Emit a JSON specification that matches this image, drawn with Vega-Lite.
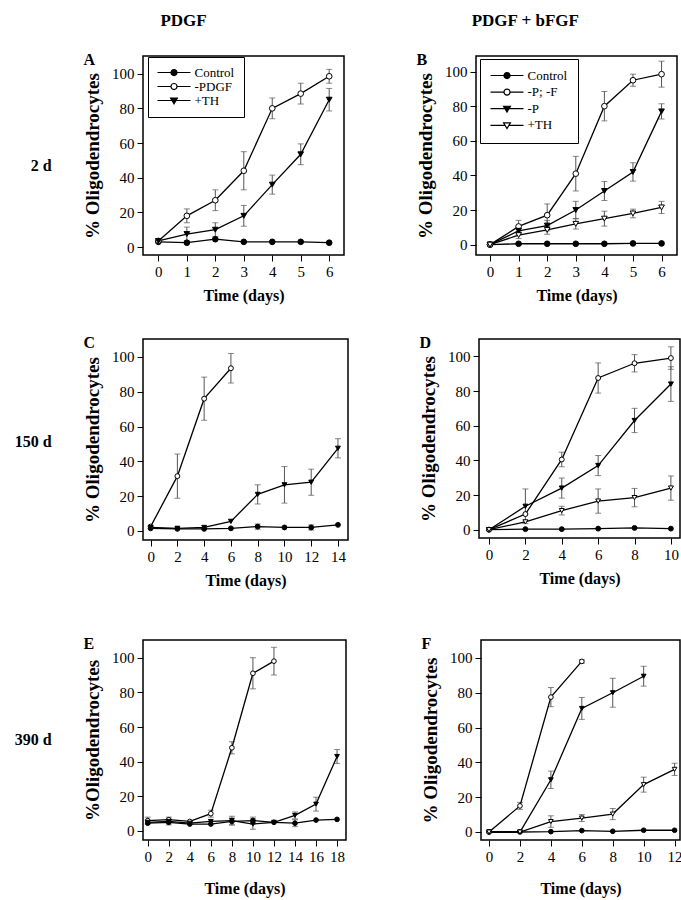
{
  "$schema": "https://vega.github.io/schema/vega-lite/v6.json",
  "background": "white",
  "padding": {"left": 14, "top": 12, "right": 4, "bottom": 4},
  "config": {
    "view": {"stroke": "black", "strokeWidth": 1.5},
    "axis": {"grid": false, "domain": false, "tickColor": "black", "tickWidth": 1, "tickSize": 6, "labelFont": "Liberation Serif", "labelFontSize": 15, "labelColor": "black", "labelPadding": 3, "titleFont": "Liberation Serif", "titleFontWeight": "bold", "titleColor": "black", "labelFlush": false, "labelOverlap": false},
    "axisX": {"titleFontSize": 16, "titlePadding": 8},
    "axisY": {"titleFontSize": 19, "titlePadding": 9}
  },
  "resolve": {"scale": {"shape": "independent", "fill": "independent"}},
  "datasets": {
    "A": [
      {"series": "Control", "day": 0, "pct": 3, "err": 0},
      {"series": "Control", "day": 1, "pct": 2.5, "err": 0},
      {"series": "Control", "day": 2, "pct": 4.5, "err": 0},
      {"series": "Control", "day": 3, "pct": 3, "err": 0},
      {"series": "Control", "day": 4, "pct": 3, "err": 0},
      {"series": "Control", "day": 5, "pct": 3, "err": 0},
      {"series": "Control", "day": 6, "pct": 2.5, "err": 0},
      {"series": "-PDGF", "day": 0, "pct": 3.5, "err": 0},
      {"series": "-PDGF", "day": 1, "pct": 18, "err": 4},
      {"series": "-PDGF", "day": 2, "pct": 27, "err": 6},
      {"series": "-PDGF", "day": 3, "pct": 44, "err": 11},
      {"series": "-PDGF", "day": 4, "pct": 80, "err": 6},
      {"series": "-PDGF", "day": 5, "pct": 88.5, "err": 6},
      {"series": "-PDGF", "day": 6, "pct": 98.5, "err": 4},
      {"series": "+TH", "day": 0, "pct": 3.5, "err": 0},
      {"series": "+TH", "day": 1, "pct": 7.5, "err": 4},
      {"series": "+TH", "day": 2, "pct": 10, "err": 4},
      {"series": "+TH", "day": 3, "pct": 18, "err": 6},
      {"series": "+TH", "day": 4, "pct": 36, "err": 5.5},
      {"series": "+TH", "day": 5, "pct": 53.5, "err": 6},
      {"series": "+TH", "day": 6, "pct": 85, "err": 6.5}
    ],
    "B": [
      {"series": "Control", "day": 0, "pct": 0, "err": 0},
      {"series": "Control", "day": 1, "pct": 0.5, "err": 0},
      {"series": "Control", "day": 2, "pct": 0.5, "err": 0},
      {"series": "Control", "day": 3, "pct": 0.5, "err": 0},
      {"series": "Control", "day": 4, "pct": 0.5, "err": 0},
      {"series": "Control", "day": 5, "pct": 0.7, "err": 0},
      {"series": "Control", "day": 6, "pct": 0.7, "err": 0},
      {"series": "-P; -F", "day": 0, "pct": 0, "err": 0},
      {"series": "-P; -F", "day": 1, "pct": 10.5, "err": 3.5},
      {"series": "-P; -F", "day": 2, "pct": 17, "err": 6.5},
      {"series": "-P; -F", "day": 3, "pct": 41, "err": 10},
      {"series": "-P; -F", "day": 4, "pct": 80, "err": 8.5},
      {"series": "-P; -F", "day": 5, "pct": 95, "err": 3.5},
      {"series": "-P; -F", "day": 6, "pct": 98.5, "err": 7.5},
      {"series": "-P", "day": 0, "pct": 0, "err": 0},
      {"series": "-P", "day": 1, "pct": 8, "err": 2},
      {"series": "-P", "day": 2, "pct": 11, "err": 3},
      {"series": "-P", "day": 3, "pct": 20, "err": 5},
      {"series": "-P", "day": 4, "pct": 31, "err": 5.5},
      {"series": "-P", "day": 5, "pct": 42, "err": 5.3},
      {"series": "-P", "day": 6, "pct": 77, "err": 4.4},
      {"series": "+TH", "day": 0, "pct": 0, "err": 0},
      {"series": "+TH", "day": 1, "pct": 5.5, "err": 2},
      {"series": "+TH", "day": 2, "pct": 8.5, "err": 2.5},
      {"series": "+TH", "day": 3, "pct": 12, "err": 3},
      {"series": "+TH", "day": 4, "pct": 15, "err": 4.3},
      {"series": "+TH", "day": 5, "pct": 18, "err": 2.5},
      {"series": "+TH", "day": 6, "pct": 21.5, "err": 3.5}
    ],
    "C": [
      {"series": "Control", "day": 0, "pct": 1.5, "err": 0},
      {"series": "Control", "day": 2, "pct": 1.2, "err": 0},
      {"series": "Control", "day": 4, "pct": 1.2, "err": 0},
      {"series": "Control", "day": 6, "pct": 1.5, "err": 0},
      {"series": "Control", "day": 8, "pct": 2.5, "err": 1.5},
      {"series": "Control", "day": 10, "pct": 2, "err": 0},
      {"series": "Control", "day": 12, "pct": 2, "err": 1.5},
      {"series": "Control", "day": 14, "pct": 3.5, "err": 0},
      {"series": "-PDGF", "day": 0, "pct": 2.5, "err": 0},
      {"series": "-PDGF", "day": 2, "pct": 31.5, "err": 12.7},
      {"series": "-PDGF", "day": 4, "pct": 76, "err": 12.4},
      {"series": "-PDGF", "day": 6, "pct": 93.5, "err": 8.5},
      {"series": "+TH", "day": 0, "pct": 2, "err": 0},
      {"series": "+TH", "day": 2, "pct": 1.5, "err": 0},
      {"series": "+TH", "day": 4, "pct": 2, "err": 0},
      {"series": "+TH", "day": 6, "pct": 5.5, "err": 0},
      {"series": "+TH", "day": 8, "pct": 21, "err": 5.5},
      {"series": "+TH", "day": 10, "pct": 26.5, "err": 10.5},
      {"series": "+TH", "day": 12, "pct": 28, "err": 7.5},
      {"series": "+TH", "day": 14, "pct": 47.5, "err": 5.5}
    ],
    "D": [
      {"series": "Control", "day": 0, "pct": 0, "err": 0},
      {"series": "Control", "day": 2, "pct": 0.3, "err": 0},
      {"series": "Control", "day": 4, "pct": 0.3, "err": 0},
      {"series": "Control", "day": 6, "pct": 0.6, "err": 0},
      {"series": "Control", "day": 8, "pct": 1, "err": 0},
      {"series": "Control", "day": 10, "pct": 0.6, "err": 0},
      {"series": "-P; -F", "day": 0, "pct": 0, "err": 0},
      {"series": "-P; -F", "day": 2, "pct": 9, "err": 0},
      {"series": "-P; -F", "day": 4, "pct": 40.5, "err": 4.2},
      {"series": "-P; -F", "day": 6, "pct": 87.5, "err": 8.7},
      {"series": "-P; -F", "day": 8, "pct": 96, "err": 5},
      {"series": "-P; -F", "day": 10, "pct": 99, "err": 6.5},
      {"series": "-P", "day": 0, "pct": 0, "err": 0},
      {"series": "-P", "day": 2, "pct": 13.5, "err": 10},
      {"series": "-P", "day": 4, "pct": 24, "err": 5.8},
      {"series": "-P", "day": 6, "pct": 37, "err": 5.8},
      {"series": "-P", "day": 8, "pct": 63, "err": 7},
      {"series": "-P", "day": 10, "pct": 84, "err": 10},
      {"series": "+TH", "day": 0, "pct": 0, "err": 0},
      {"series": "+TH", "day": 2, "pct": 4.5, "err": 0},
      {"series": "+TH", "day": 4, "pct": 11, "err": 2.5},
      {"series": "+TH", "day": 6, "pct": 16.5, "err": 7},
      {"series": "+TH", "day": 8, "pct": 18.5, "err": 5.3},
      {"series": "+TH", "day": 10, "pct": 24, "err": 7}
    ],
    "E": [
      {"series": "Control", "day": 0, "pct": 4.5, "err": 0},
      {"series": "Control", "day": 2, "pct": 5, "err": 1.5},
      {"series": "Control", "day": 4, "pct": 4, "err": 0},
      {"series": "Control", "day": 6, "pct": 4, "err": 0},
      {"series": "Control", "day": 8, "pct": 5.5, "err": 2},
      {"series": "Control", "day": 10, "pct": 6, "err": 2},
      {"series": "Control", "day": 12, "pct": 5, "err": 0},
      {"series": "Control", "day": 14, "pct": 4.5, "err": 2},
      {"series": "Control", "day": 16, "pct": 6.3, "err": 0},
      {"series": "Control", "day": 18, "pct": 6.7, "err": 0},
      {"series": "-PDGF", "day": 0, "pct": 6, "err": 2},
      {"series": "-PDGF", "day": 2, "pct": 6.5, "err": 1.5},
      {"series": "-PDGF", "day": 4, "pct": 5.5, "err": 0},
      {"series": "-PDGF", "day": 6, "pct": 10, "err": 2},
      {"series": "-PDGF", "day": 8, "pct": 48, "err": 3.5},
      {"series": "-PDGF", "day": 10, "pct": 91, "err": 9},
      {"series": "-PDGF", "day": 12, "pct": 98, "err": 8},
      {"series": "+TH", "day": 0, "pct": 5, "err": 0},
      {"series": "+TH", "day": 2, "pct": 5.5, "err": 0},
      {"series": "+TH", "day": 4, "pct": 4.5, "err": 0},
      {"series": "+TH", "day": 6, "pct": 5.5, "err": 0},
      {"series": "+TH", "day": 8, "pct": 6, "err": 2.5},
      {"series": "+TH", "day": 10, "pct": 4, "err": 3},
      {"series": "+TH", "day": 12, "pct": 5, "err": 0},
      {"series": "+TH", "day": 14, "pct": 9, "err": 2},
      {"series": "+TH", "day": 16, "pct": 15.5, "err": 4},
      {"series": "+TH", "day": 18, "pct": 43, "err": 4}
    ],
    "F": [
      {"series": "Control", "day": 0, "pct": 0, "err": 0},
      {"series": "Control", "day": 2, "pct": 0, "err": 0},
      {"series": "Control", "day": 4, "pct": 0.2, "err": 0},
      {"series": "Control", "day": 6, "pct": 0.8, "err": 0},
      {"series": "Control", "day": 8, "pct": 0.4, "err": 0},
      {"series": "Control", "day": 10, "pct": 1, "err": 0},
      {"series": "Control", "day": 12, "pct": 1, "err": 0},
      {"series": "-P; -F", "day": 0, "pct": 0, "err": 0},
      {"series": "-P; -F", "day": 2, "pct": 15, "err": 2},
      {"series": "-P; -F", "day": 4, "pct": 77.5, "err": 5.5},
      {"series": "-P; -F", "day": 6, "pct": 98, "err": 1},
      {"series": "-P", "day": 0, "pct": 0, "err": 0},
      {"series": "-P", "day": 2, "pct": 0, "err": 0},
      {"series": "-P", "day": 4, "pct": 30, "err": 5},
      {"series": "-P", "day": 6, "pct": 71, "err": 6.3},
      {"series": "-P", "day": 8, "pct": 80, "err": 8.3},
      {"series": "-P", "day": 10, "pct": 89.5, "err": 5.7},
      {"series": "+TH", "day": 0, "pct": 0, "err": 0},
      {"series": "+TH", "day": 2, "pct": 0, "err": 0},
      {"series": "+TH", "day": 4, "pct": 6, "err": 3.3},
      {"series": "+TH", "day": 6, "pct": 8, "err": 2},
      {"series": "+TH", "day": 8, "pct": 10.3, "err": 3.2},
      {"series": "+TH", "day": 10, "pct": 27.2, "err": 4.3},
      {"series": "+TH", "day": 12, "pct": 36, "err": 3.5}
    ]
  },
  "spacing": 30,
  "vconcat": [
    {
      "title": {"text": "2 d", "orient": "left", "angle": 0, "align": "left", "baseline": "middle", "anchor": "middle", "frame": "bounds", "offset": 31, "dy": 8, "font": "Liberation Serif", "fontSize": 16, "fontWeight": "bold", "color": "black"},
      "spacing": 68,
      "resolve": {"scale": {"shape": "independent", "fill": "independent"}},
      "hconcat": [
        {
          "title": {"text": "PDGF", "anchor": "middle", "frame": "bounds", "offset": 21, "dx": -31, "font": "Liberation Serif", "fontSize": 17, "fontWeight": "bold", "color": "black"},
          "vconcat": [
            {
              "title": {"text": "A", "orient": "top", "anchor": "start", "frame": "bounds", "offset": -12, "font": "Liberation Serif", "fontSize": 16, "fontWeight": "bold", "color": "black"},
              "width": 201, "height": 199,
              "data": {"name": "A"},
              "resolve": {"scale": {"shape": "independent", "fill": "independent"}},
              "encoding": {
                "x": {"field": "day", "type": "quantitative", "scale": {"domain": [-0.54, 6.52], "nice": false, "zero": false}, "axis": {"values": [0, 1, 2, 3, 4, 5, 6], "title": "Time (days)"}},
                "y": {"field": "pct", "type": "quantitative", "scale": {"domain": [-4.6, 110.2], "nice": false, "zero": false}, "axis": {"values": [0, 20, 40, 60, 80, 100], "title": "% Oligodendrocytes"}}
              },
              "layer": [
                {"transform": [{"filter": "datum.err > 0"}], "mark": {"type": "errorbar", "ticks": true, "size": 6, "thickness": 1, "color": "#555"}, "encoding": {"yError": {"field": "err"}}},
                {"mark": {"type": "line", "stroke": "black", "strokeWidth": 1.3}, "encoding": {"detail": {"field": "series"}}},
                {"mark": {"type": "point", "filled": true, "size": 32, "stroke": "black", "strokeWidth": 1, "opacity": 1},
                 "encoding": {
                   "shape": {"field": "series", "type": "nominal", "scale": {"domain": ["Control", "-PDGF", "+TH"], "range": ["circle", "circle", "triangle-down"]}, "legend": null},
                   "fill": {"field": "series", "type": "nominal", "scale": {"domain": ["Control", "-PDGF", "+TH"], "range": ["black", "white", "black"]}, "legend": null}
                 }},
                {"mark": {"type": "point", "filled": true, "size": 121, "stroke": "black", "strokeWidth": 1.2, "opacity": 0},
                 "encoding": {
                   "shape": {"field": "series", "type": "nominal", "scale": {"domain": ["Control", "-PDGF", "+TH"], "range": ["M-3,0H3M0.55,0A0.55,0.55,0,1,1,-0.55,0A0.55,0.55,0,1,1,0.55,0Z", "M-3,0H-0.55M0.55,0H3M0.55,0A0.55,0.55,0,1,1,-0.55,0A0.55,0.55,0,1,1,0.55,0Z", "M-3,0H3M-0.62,-0.45L0.62,-0.45L0,0.6Z"]},
                     "legend": {"title": null, "orient": "none", "legendX": 5, "legendY": 1, "strokeColor": "black", "fillColor": "white", "padding": 9, "labelFont": "Liberation Serif", "labelFontSize": 13, "labelColor": "black", "symbolSize": 121, "symbolStrokeWidth": 1.2, "symbolStrokeColor": "black", "symbolOpacity": 1, "symbolOffset": 10.5, "labelOffset": 14, "rowPadding": 0,
                       "encoding": {"symbols": {"stroke": {"value": "black"}, "strokeWidth": {"value": 1.2}, "strokeOpacity": {"value": 1}}}}},
                   "fill": {"field": "series", "type": "nominal", "scale": {"domain": ["Control", "-PDGF", "+TH"], "range": ["black", "white", "black"]},
                     "legend": {"title": null, "orient": "none", "legendX": 5, "legendY": 1, "strokeColor": "black", "fillColor": "white", "padding": 9, "labelFont": "Liberation Serif", "labelFontSize": 13, "labelColor": "black", "symbolSize": 121, "symbolStrokeWidth": 1.2, "symbolStrokeColor": "black", "symbolOpacity": 1, "symbolOffset": 10.5, "labelOffset": 14, "rowPadding": 0,
                       "encoding": {"symbols": {"stroke": {"value": "black"}, "strokeWidth": {"value": 1.2}, "strokeOpacity": {"value": 1}}}}}
                 }}
              ]
            }
          ]
        },
        {
          "title": {"text": "PDGF + bFGF", "anchor": "middle", "frame": "bounds", "offset": 21, "dx": -22, "font": "Liberation Serif", "fontSize": 17, "fontWeight": "bold", "color": "black"},
          "vconcat": [
            {
              "title": {"text": "B", "orient": "top", "anchor": "start", "frame": "bounds", "offset": -12, "font": "Liberation Serif", "fontSize": 16, "fontWeight": "bold", "color": "black"},
              "width": 201, "height": 199,
              "data": {"name": "B"},
              "resolve": {"scale": {"shape": "independent", "fill": "independent"}},
              "encoding": {
                "x": {"field": "day", "type": "quantitative", "scale": {"domain": [-0.49, 6.54], "nice": false, "zero": false}, "axis": {"values": [0, 1, 2, 3, 4, 5, 6], "title": "Time (days)"}},
                "y": {"field": "pct", "type": "quantitative", "scale": {"domain": [-6, 109], "nice": false, "zero": false}, "axis": {"values": [0, 20, 40, 60, 80, 100], "title": "% Oligodendrocytes"}}
              },
              "layer": [
                {"transform": [{"filter": "datum.err > 0"}], "mark": {"type": "errorbar", "ticks": true, "size": 6, "thickness": 1, "color": "#555"}, "encoding": {"yError": {"field": "err"}}},
                {"mark": {"type": "line", "stroke": "black", "strokeWidth": 1.3}, "encoding": {"detail": {"field": "series"}}},
                {"mark": {"type": "point", "filled": true, "size": 32, "stroke": "black", "strokeWidth": 1, "opacity": 1},
                 "encoding": {
                   "shape": {"field": "series", "type": "nominal", "scale": {"domain": ["Control", "-P; -F", "-P", "+TH"], "range": ["circle", "circle", "triangle-down", "triangle-down"]}, "legend": null},
                   "fill": {"field": "series", "type": "nominal", "scale": {"domain": ["Control", "-P; -F", "-P", "+TH"], "range": ["black", "white", "black", "white"]}, "legend": null}
                 }},
                {"mark": {"type": "point", "filled": true, "size": 121, "stroke": "black", "strokeWidth": 1.2, "opacity": 0},
                 "encoding": {
                   "shape": {"field": "series", "type": "nominal", "scale": {"domain": ["Control", "-P; -F", "-P", "+TH"], "range": ["M-3,0H3M0.55,0A0.55,0.55,0,1,1,-0.55,0A0.55,0.55,0,1,1,0.55,0Z", "M-3,0H-0.55M0.55,0H3M0.55,0A0.55,0.55,0,1,1,-0.55,0A0.55,0.55,0,1,1,0.55,0Z", "M-3,0H3M-0.62,-0.45L0.62,-0.45L0,0.6Z", "M-3,0H-0.36M0.36,0H3M-0.62,-0.45L0.62,-0.45L0,0.6Z"]},
                     "legend": {"title": null, "orient": "none", "legendX": 4, "legendY": 3, "strokeColor": "black", "fillColor": "white", "padding": 10, "labelFont": "Liberation Serif", "labelFontSize": 13, "labelColor": "black", "symbolSize": 121, "symbolStrokeWidth": 1.2, "symbolStrokeColor": "black", "symbolOpacity": 1, "symbolOffset": 10.5, "labelOffset": 14, "rowPadding": 2.6,
                       "encoding": {"symbols": {"stroke": {"value": "black"}, "strokeWidth": {"value": 1.2}, "strokeOpacity": {"value": 1}}}}},
                   "fill": {"field": "series", "type": "nominal", "scale": {"domain": ["Control", "-P; -F", "-P", "+TH"], "range": ["black", "white", "black", "white"]},
                     "legend": {"title": null, "orient": "none", "legendX": 4, "legendY": 3, "strokeColor": "black", "fillColor": "white", "padding": 10, "labelFont": "Liberation Serif", "labelFontSize": 13, "labelColor": "black", "symbolSize": 121, "symbolStrokeWidth": 1.2, "symbolStrokeColor": "black", "symbolOpacity": 1, "symbolOffset": 10.5, "labelOffset": 14, "rowPadding": 2.6,
                       "encoding": {"symbols": {"stroke": {"value": "black"}, "strokeWidth": {"value": 1.2}, "strokeOpacity": {"value": 1}}}}}
                 }}
              ]
            }
          ]
        }
      ]
    },
    {
      "spacing": 46,
      "resolve": {"scale": {"shape": "independent", "fill": "independent"}},
      "vconcat": [
        {
          "title": {"text": "150 d", "orient": "left", "angle": 0, "align": "left", "baseline": "middle", "anchor": "middle", "frame": "bounds", "offset": 31, "dy": -20, "font": "Liberation Serif", "fontSize": 16, "fontWeight": "bold", "color": "black"},
          "spacing": 69,
          "resolve": {"scale": {"shape": "independent", "fill": "independent"}},
          "hconcat": [
            {
              "title": {"text": "C", "orient": "top", "anchor": "start", "frame": "bounds", "offset": -12, "font": "Liberation Serif", "fontSize": 16, "fontWeight": "bold", "color": "black"},
              "width": 205, "height": 201,
              "data": {"name": "C"},
              "encoding": {
                "x": {"field": "day", "type": "quantitative", "scale": {"domain": [-0.57, 14.75], "nice": false, "zero": false}, "axis": {"values": [0, 2, 4, 6, 8, 10, 12, 14], "title": "Time (days)"}},
                "y": {"field": "pct", "type": "quantitative", "scale": {"domain": [-5.2, 110.3], "nice": false, "zero": false}, "axis": {"values": [0, 20, 40, 60, 80, 100], "title": "% Oligodendrocytes"}}
              },
              "layer": [
                {"transform": [{"filter": "datum.err > 0"}], "mark": {"type": "errorbar", "ticks": true, "size": 6, "thickness": 1, "color": "#555"}, "encoding": {"yError": {"field": "err"}}},
                {"mark": {"type": "line", "stroke": "black", "strokeWidth": 1.3}, "encoding": {"detail": {"field": "series"}}},
                {"mark": {"type": "point", "filled": true, "size": 24, "stroke": "black", "strokeWidth": 1, "opacity": 1},
                 "encoding": {
                   "shape": {"field": "series", "type": "nominal", "scale": {"domain": ["Control", "-PDGF", "+TH"], "range": ["circle", "circle", "triangle-down"]}, "legend": null},
                   "fill": {"field": "series", "type": "nominal", "scale": {"domain": ["Control", "-PDGF", "+TH"], "range": ["black", "white", "black"]}, "legend": null}
                 }}
              ]
            },
            {
              "title": {"text": "D", "orient": "top", "anchor": "start", "frame": "bounds", "offset": -12, "font": "Liberation Serif", "fontSize": 16, "fontWeight": "bold", "color": "black"},
              "width": 201, "height": 199,
              "data": {"name": "D"},
              "encoding": {
                "x": {"field": "day", "type": "quantitative", "scale": {"domain": [-0.55, 10.5], "nice": false, "zero": false}, "axis": {"values": [0, 2, 4, 6, 8, 10], "title": "Time (days)"}},
                "y": {"field": "pct", "type": "quantitative", "scale": {"domain": [-4.8, 110], "nice": false, "zero": false}, "axis": {"values": [0, 20, 40, 60, 80, 100], "title": "% Oligodendrocytes"}}
              },
              "layer": [
                {"transform": [{"filter": "datum.err > 0"}], "mark": {"type": "errorbar", "ticks": true, "size": 6, "thickness": 1, "color": "#555"}, "encoding": {"yError": {"field": "err"}}},
                {"mark": {"type": "line", "stroke": "black", "strokeWidth": 1.3}, "encoding": {"detail": {"field": "series"}}},
                {"mark": {"type": "point", "filled": true, "size": 24, "stroke": "black", "strokeWidth": 1, "opacity": 1},
                 "encoding": {
                   "shape": {"field": "series", "type": "nominal", "scale": {"domain": ["Control", "-P; -F", "-P", "+TH"], "range": ["circle", "circle", "triangle-down", "triangle-down"]}, "legend": null},
                   "fill": {"field": "series", "type": "nominal", "scale": {"domain": ["Control", "-P; -F", "-P", "+TH"], "range": ["black", "white", "black", "white"]}, "legend": null}
                 }}
              ]
            }
          ]
        },
        {
          "title": {"text": "390 d", "orient": "left", "angle": 0, "align": "left", "baseline": "middle", "anchor": "middle", "frame": "bounds", "offset": 31, "dy": -26, "font": "Liberation Serif", "fontSize": 16, "fontWeight": "bold", "color": "black"},
          "spacing": 73,
          "resolve": {"scale": {"shape": "independent", "fill": "independent"}},
          "hconcat": [
            {
              "title": {"text": "E", "orient": "top", "anchor": "start", "frame": "bounds", "offset": -12, "font": "Liberation Serif", "fontSize": 16, "fontWeight": "bold", "color": "black"},
              "width": 203, "height": 200,
              "data": {"name": "E"},
              "encoding": {
                "x": {"field": "day", "type": "quantitative", "scale": {"domain": [-0.45, 18.85], "nice": false, "zero": false}, "axis": {"values": [0, 2, 4, 6, 8, 10, 12, 14, 16, 18], "title": "Time (days)", "titlePadding": 16}},
                "y": {"field": "pct", "type": "quantitative", "scale": {"domain": [-5.2, 110.2], "nice": false, "zero": false}, "axis": {"values": [0, 20, 40, 60, 80, 100], "title": "%Oligodendrocytes"}}
              },
              "layer": [
                {"transform": [{"filter": "datum.err > 0"}], "mark": {"type": "errorbar", "ticks": true, "size": 6, "thickness": 1, "color": "#555"}, "encoding": {"yError": {"field": "err"}}},
                {"mark": {"type": "line", "stroke": "black", "strokeWidth": 1.3}, "encoding": {"detail": {"field": "series"}}},
                {"mark": {"type": "point", "filled": true, "size": 22, "stroke": "black", "strokeWidth": 1, "opacity": 1},
                 "encoding": {
                   "shape": {"field": "series", "type": "nominal", "scale": {"domain": ["Control", "-PDGF", "+TH"], "range": ["circle", "circle", "triangle-down"]}, "legend": null},
                   "fill": {"field": "series", "type": "nominal", "scale": {"domain": ["Control", "-PDGF", "+TH"], "range": ["black", "white", "black"]}, "legend": null}
                 }}
              ]
            },
            {
              "title": {"text": "F", "orient": "top", "anchor": "start", "frame": "bounds", "offset": -12, "font": "Liberation Serif", "fontSize": 16, "fontWeight": "bold", "color": "black"},
              "width": 199, "height": 200,
              "data": {"name": "F"},
              "encoding": {
                "x": {"field": "day", "type": "quantitative", "scale": {"domain": [-0.52, 12.35], "nice": false, "zero": false}, "axis": {"values": [0, 2, 4, 6, 8, 10, 12], "title": "Time (days)", "titlePadding": 16}},
                "y": {"field": "pct", "type": "quantitative", "scale": {"domain": [-4.6, 110.3], "nice": false, "zero": false}, "axis": {"values": [0, 20, 40, 60, 80, 100], "title": "% Oligodendrocytes"}}
              },
              "layer": [
                {"transform": [{"filter": "datum.err > 0"}], "mark": {"type": "errorbar", "ticks": true, "size": 6, "thickness": 1, "color": "#555"}, "encoding": {"yError": {"field": "err"}}},
                {"mark": {"type": "line", "stroke": "black", "strokeWidth": 1.3}, "encoding": {"detail": {"field": "series"}}},
                {"mark": {"type": "point", "filled": true, "size": 22, "stroke": "black", "strokeWidth": 1, "opacity": 1},
                 "encoding": {
                   "shape": {"field": "series", "type": "nominal", "scale": {"domain": ["Control", "-P; -F", "-P", "+TH"], "range": ["circle", "circle", "triangle-down", "triangle-down"]}, "legend": null},
                   "fill": {"field": "series", "type": "nominal", "scale": {"domain": ["Control", "-P; -F", "-P", "+TH"], "range": ["black", "white", "black", "white"]}, "legend": null}
                 }}
              ]
            }
          ]
        }
      ]
    }
  ]
}
